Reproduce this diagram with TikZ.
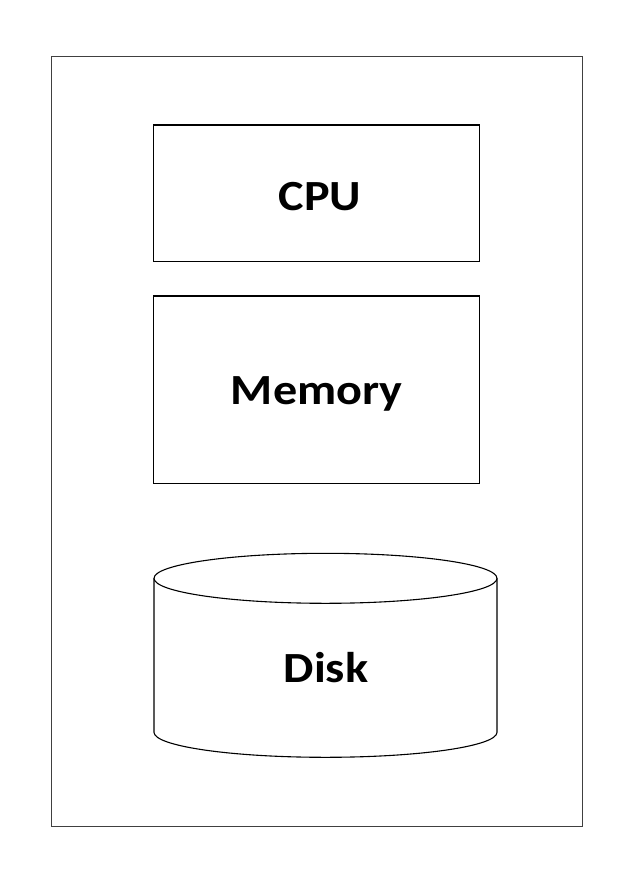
\documentclass[tikz,border=0pt]{standalone}
\usepackage{fontspec}
\setmainfont{Carlito}
\tikzset{
  box/.style={draw=black, line width=1.1pt, rectangle, inner sep=0pt},
  outerbox/.style={draw=black!75, line width=1.3pt, rectangle, inner sep=0pt},
  lbl/.style={font=\fontsize{43}{50}\selectfont\bfseries, inner sep=0pt, anchor=base},
  cyl/.style={draw=black, line width=1.1pt}
}
\newcommand{\wide}[1]{\scalebox{1.12}[1]{#1}}
\begin{document}
\begin{tikzpicture}[x=1pt,y=-1pt]
\useasboundingbox[fill=white] (0,0) rectangle (628,870);
\node[outerbox, minimum width=531pt, minimum height=770pt] (sys) at (316.7,441.3) {};
\node[box, minimum width=325.5pt, minimum height=136.7pt] (cpu) at (316.5,193.3) {};
\node[box, minimum width=325.5pt, minimum height=187.7pt] (mem) at (316.5,389.8) {};
\node[lbl] (cputxt) at (320,210.3) {\wide{CPU}};
\node[lbl] (memtxt) at (316.7,404.3) {\wide{Memory}};
% disk cylinder
\draw[cyl] (154,578.3) -- (154,732.3) arc[start angle=180, end angle=360, x radius=171.5, y radius=-25] -- (497,578.3);
\draw[cyl] (325.5,578.3) ellipse [x radius=171.5, y radius=25];
\node[lbl] (disktxt) at (326,682) {\wide{Disk}};
\end{tikzpicture}
\end{document}
